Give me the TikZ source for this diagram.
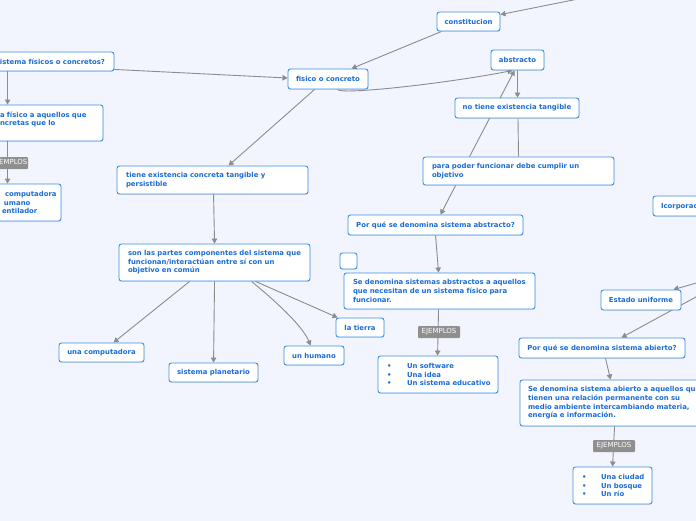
\documentclass[tikz,border=0pt]{standalone}
\usepackage{fontspec}
\setmainfont{DejaVu Sans}
\usetikzlibrary{arrows.meta,backgrounds,calc,shadows}
\definecolor{bg}{HTML}{F2F5FD}
\definecolor{bord}{HTML}{3A8EE6}
\definecolor{txt}{HTML}{1A6CD6}
\definecolor{conng}{HTML}{8C8C8C}
\definecolor{lab}{HTML}{8F8F8F}
\begin{document}
\begin{tikzpicture}[x=1pt,y=-1pt,
  box/.style={draw=bord, fill=white, line width=0.9pt, rounded corners=2.5pt, text=txt,
     font=\fontsize{6.9}{8.6}\selectfont\bfseries, inner sep=0pt,
     drop shadow={shadow xshift=0.3pt, shadow yshift=-0.9pt, opacity=0.18}},
  mbox/.style={box, align=left, inner xsep=9pt},
  lbl/.style={fill=lab, text=white, font=\fontsize{7}{8}\selectfont, inner sep=0pt,
     minimum width=42pt, minimum height=12pt, rounded corners=1pt},
  conn/.style={draw=conng, line width=0.9pt, -{Triangle[width=5.5pt,length=5pt]}},
  plainline/.style={draw=conng, line width=0.9pt}]
\useasboundingbox (0,0) rectangle (696,520);

% left column (partly cut off)
\node[box, minimum width=127.2pt, minimum height=19pt] (n1) at (50.4,61.5) {sistema físicos o concretos?};
\node[box, align=left, text width=93pt, inner xsep=10pt, minimum height=36pt] (n2) at (46.5,123) {\mbox{a físico a aquellos que}\\\mbox{ncretas que lo}\\\mbox{}};
\node[box, align=left, text width=61pt, inner xsep=5pt, minimum height=37pt] (n3) at (25.5,202.5) {\mbox{\hspace*{10pt}computadora}\\\mbox{\hspace*{9pt}umano}\\\mbox{\hspace*{7pt}entilador}};
\node[lbl] (ej0) at (7,163) {\hspace*{6pt}EJEMPLOS};

% centre
\node[box, minimum width=63pt, minimum height=19pt] (constitucion) at (468.5,21.5) {constitucion};
\node[box, minimum width=80pt, minimum height=20pt] (fisico) at (328,79) {fisico o concreto};
\node[box, minimum width=53pt, minimum height=20pt] (abstracto) at (517.5,60) {abstracto};
\node[box, minimum width=124pt, minimum height=20pt] (notiene) at (517,108) {no tiene existencia tangible};
\node[mbox, text width=173pt, minimum height=28pt] (parapoder) at (518.5,171) {\mbox{para poder funcionar debe cumplir un}\\objetivo};
\node[box, minimum width=175pt, minimum height=20pt] (porabs) at (435.5,225) {Por qué se denomina sistema abstracto?};
\node[box, minimum width=17pt, minimum height=16pt] (vacio) at (348.5,261) {};
\node[mbox, text width=173pt, minimum height=36pt] (seabs) at (439.5,291) {\mbox{Se denomina sistemas abstractos a aquellos}\\\mbox{que necesitan de un sistema físico para}\\funcionar.};
\node[lbl] (ej1) at (439,332) {EJEMPLOS};
\node[mbox, text width=102pt, minimum height=37pt] (lista1) at (438,374.5) {\mbox{\makebox[20pt][l]{•}Un software}\\\mbox{\makebox[20pt][l]{•}Una idea}\\\mbox{\makebox[20pt][l]{•}Un sistema educativo}};

\node[mbox, text width=173pt, minimum height=28pt] (tiene) at (212.5,180) {\mbox{tiene existencia concreta tangible y}\\persistible};
\node[mbox, text width=173pt, minimum height=37pt] (son) at (214.5,262.5) {\mbox{son las partes componentes del sistema que}\\\mbox{funcionan/interactúan entre sí con un}\\\mbox{objetivo en común}};
\node[box, minimum width=85pt, minimum height=19pt] (unacomp) at (101.5,352.5) {una computadora};
\node[box, minimum width=89pt, minimum height=19pt] (sisplan) at (213.5,372.5) {sistema planetario};
\node[box, minimum width=60pt, minimum height=19pt] (unhum) at (314,355.5) {un humano};
\node[box, minimum width=48pt, minimum height=19pt] (tierra) at (360,327.5) {la tierra};

% right side
\node[mbox, text width=84pt, inner xsep=8pt, minimum height=20pt] (icorp) at (703,206) {Icorporación};
\node[box, minimum width=80pt, minimum height=20pt] (estado) at (641,300) {Estado uniforme};
\node[box, minimum width=166pt, minimum height=20pt] (porabi) at (602,348) {Por qué se denomina sistema abierto?};
\node[mbox, text width=184pt, inner xsep=8pt, minimum height=46pt] (seabi) at (620,403) {\mbox{Se denomina sistema abierto a aquellos que}\\\mbox{tienen una relación permanente con su}\\\mbox{medio ambiente intercambiando materia,}\\\mbox{energía e información.}};
\node[lbl] (ej2) at (614,446) {EJEMPLOS};
\node[mbox, text width=61pt, minimum height=37pt] (lista2) at (612.5,485.5) {\mbox{\makebox[19pt][l]{•}Una ciudad}\\\mbox{\makebox[19pt][l]{•}Un bosque}\\\mbox{\makebox[19pt][l]{•}Un río}};

\coordinate (offA) at (588,-3);
\coordinate (offB) at (702,281.4);
\coordinate (offC) at (702,293.7);

\begin{scope}[on background layer]
\fill[bg] (-20,-20) rectangle (720,540);
\draw[conn] ([xshift=21.2pt]n1.south west) -- ([xshift=18pt]n2.north west);
\draw[conn] ([xshift=18pt]n2.south west) -- ([xshift=18pt]n3.north west);
\draw[conn] ([yshift=2pt]n1.south east) -- ([yshift=1pt]fisico.west);
\draw[conn] (offA) -- ([yshift=-3pt]constitucion.north east);
\draw[conn] ([xshift=5pt]constitucion.south west) -- ([xshift=64pt]fisico.north west);
\draw[conn] ([xshift=50pt]fisico.south west) .. controls +(4,6) and +(-60,12) .. ([xshift=-5pt]abstracto.south);
\draw[conn] (abstracto.south) -- (abstracto.south |- notiene.north);
\draw[conn] ([xshift=47pt]parapoder.north west) -- ([xshift=-3pt]abstracto.south);
\draw[plainline] ([xshift=1pt]notiene.south) -- (parapoder.north);
\draw[conn] ([xshift=33pt]parapoder.south west) -- ([xshift=93pt]porabs.north west);
\draw[conn] ([xshift=88pt]porabs.south west) -- ([xshift=95pt]seabs.north west);
\draw[conn] ([xshift=95pt]seabs.south west) -- ([xshift=60pt]lista1.north west);
\draw[conn] ([xshift=27pt]fisico.south west) -- ([xshift=112pt]tiene.north west);
\draw[conn] ([xshift=97pt]tiene.south west) -- ([xshift=96pt]son.north west);
\draw[conn] ([xshift=71pt]son.south west) -- ([xshift=55pt]unacomp.north west);
\draw[conn] ([xshift=96pt]son.south west) -- ([xshift=45pt]sisplan.north west);
\draw[conn] ([xshift=133pt]son.south west) .. controls +(22,18) and +(-8,-20) .. ([xshift=27pt]unhum.north west);
\draw[conn] ([xshift=137pt]son.south west) -- ([xshift=2pt]tierra.north west);
\draw[conn] (offB) -- ([xshift=-8pt]estado.north east);
\draw[conn] (offC) -- ([xshift=103pt]porabi.north west);
\draw[conn] ([xshift=87pt]porabi.south west) -- ([xshift=91pt]seabi.north west);
\draw[conn] ([xshift=95pt]seabi.south west) -- ([xshift=40pt]lista2.north west);
\end{scope}
\end{tikzpicture}
\end{document}
